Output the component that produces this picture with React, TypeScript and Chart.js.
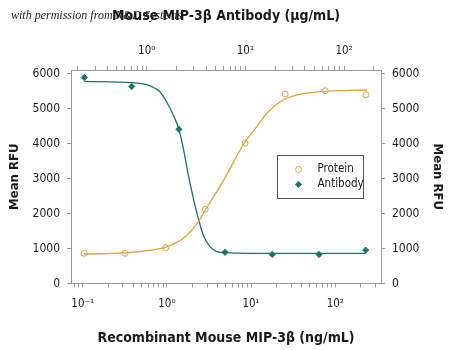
import React, { useEffect, useRef } from 'react';
import { Chart, registerables } from 'chart.js';

Chart.register(...registerables);

// ---- Data ----
// Protein: recombinant mouse MIP-3β concentration (ng/mL, bottom axis)
const proteinConc = [0.104, 0.318, 0.97, 2.85, 8.5, 25.4, 76, 231];
const proteinRFU = [863, 863, 1023, 2120, 4014, 5414, 5509, 5394];
// Protein fitted curve
const proteinFitConc = [0.104, 0.318, 0.631, 0.952, 1.57, 2.37, 2.85, 3.92, 5.65, 7.41, 8.5, 11.7, 15.4, 22.2, 35.1, 66.4, 238];
const proteinFitRFU = [843, 875, 950, 1030, 1290, 1766, 2100, 2623, 3291, 3814, 4050, 4480, 4863, 5194, 5386, 5480, 5528];

// Antibody: mouse MIP-3β antibody concentration (µg/mL, top axis)
const antibodyConc = [0.233, 0.705, 2.12, 6.21, 18.7, 55.7, 165.6];
const antibodyRFU = [5885, 5630, 4406, 891, 830, 830, 953];
// Antibody fitted curve
const antibodyFitConc = [0.233, 0.705, 1.0, 1.21, 1.36, 1.59, 1.86, 2.12, 2.35, 2.64, 2.97, 3.33, 3.74, 4.38, 5.12, 6.21, 11.1, 165.6];
const antibodyFitRFU = [5777, 5737, 5680, 5580, 5480, 5194, 4814, 4405, 3863, 3100, 2434, 1863, 1386, 1051, 909, 880, 863, 863];

// Axis ticks
const bottomTicks = [0.08, 0.09, 0.1, 0.2, 0.3, 0.4, 0.5, 0.6, 0.7, 0.8, 0.9, 1, 2, 3, 4, 5, 6, 7, 8, 9, 10, 20, 30, 40, 50, 60, 70, 80, 90, 100, 200, 300];
const topTicks = [0.2, 0.3, 0.4, 0.5, 0.6, 0.7, 0.8, 0.9, 1, 2, 3, 4, 5, 6, 7, 8, 9, 10, 20, 30, 40, 50, 60, 70, 80, 90, 100, 200];
const majorTickValues = [0.1, 1, 10, 100];
const majorTickLabels = ['10⁻¹', '10⁰', '10¹', '10²'];
const yTicks = [0, 1000, 2000, 3000, 4000, 5000, 6000];

const seriesLabels = ['Protein', 'Antibody'];

const xTitle = 'Recombinant Mouse MIP-3β (ng/mL)';
const x2Title = 'Mouse MIP-3β Antibody (µg/mL)';
const yTitle = 'Mean RFU';
const creditText = 'with permission from R&D Systems';

const ORANGE = '#E0A23A';
const TEAL = '#1E726F';
const AXIS = '#9a9a9a';
const TEXT = '#1a1a1a';
const FONT = "'Liberation Sans Narrow', 'DejaVu Sans Condensed', 'Liberation Sans', sans-serif";

function tickLabel(value: number): string {
  const i = majorTickValues.findIndex((m) => Math.abs(m - value) < 1e-9);
  return i >= 0 ? majorTickLabels[i] : '';
}

const creditPlugin = {
  id: 'credit',
  beforeDraw(chart: any) {
    const ctx = chart.ctx;
    ctx.save();
    ctx.font = "italic 12px 'Liberation Serif', 'DejaVu Serif', serif";
    ctx.fillStyle = '#222';
    ctx.textBaseline = 'middle';
    ctx.fillText(creditText, 11, 16);
    ctx.restore();
  },
};

const boxLegendPlugin = {
  id: 'boxLegend',
  afterDraw(chart: any) {
    const { ctx, chartArea } = chart;
    const w = chartArea.right - chartArea.left;
    const h = chartArea.bottom - chartArea.top;
    const bx = Math.round(chartArea.left + w * 0.665) + 0.5;
    const by = Math.round(chartArea.top + h * 0.398) + 0.5;
    const bw = Math.round(w * 0.277);
    const bh = Math.round(h * 0.202);
    ctx.save();
    ctx.strokeStyle = '#555';
    ctx.lineWidth = 1;
    ctx.strokeRect(bx, by, bw, bh);
    ctx.font = `11.5px ${FONT}`;
    ctx.fillStyle = TEXT;
    ctx.textBaseline = 'middle';
    const mx = bx + 21;
    const tx = bx + 40;
    const y1 = by + 14;
    const y2 = by + 29;
    // protein marker (open circle)
    ctx.beginPath();
    ctx.arc(mx, y1, 3, 0, Math.PI * 2);
    ctx.fillStyle = '#fff';
    ctx.fill();
    ctx.strokeStyle = ORANGE;
    ctx.lineWidth = 1;
    ctx.stroke();
    // antibody marker (diamond)
    ctx.beginPath();
    const r = 3.6;
    ctx.moveTo(mx, y2 - r);
    ctx.lineTo(mx + r, y2);
    ctx.lineTo(mx, y2 + r);
    ctx.lineTo(mx - r, y2);
    ctx.closePath();
    ctx.fillStyle = TEAL;
    ctx.fill();
    ctx.fillStyle = TEXT;
    ctx.fillText(seriesLabels[0], tx, y1);
    ctx.fillText(seriesLabels[1], tx, y2);
    ctx.restore();
  },
};

export default function App() {
  const canvasRef = useRef<HTMLCanvasElement | null>(null);

  useEffect(() => {
    if (!canvasRef.current) return;
    const xy = (xs: number[], ys: number[]) => xs.map((x, i) => ({ x, y: ys[i] }));

    const logAxisCommon = (ticksList: number[], pad: number) => ({
      type: 'logarithmic' as const,
      afterBuildTicks: (scale: any) => {
        scale.ticks = ticksList.map((v) => ({ value: v }));
      },
      grid: {
        drawOnChartArea: false,
        drawTicks: true,
        tickLength: 4,
        tickColor: AXIS,
      },
      border: { display: true, color: AXIS, width: 1 },
      ticks: {
        autoSkip: false,
        maxRotation: 0,
        minRotation: 0,
        padding: pad,
        color: TEXT,
        font: { family: FONT, size: 11.5 },
        callback: (value: any) => tickLabel(Number(value)),
      },
    });

    const linAxisCommon = (pad: number) => ({
      type: 'linear' as const,
      min: 0,
      max: 6100,
      afterBuildTicks: (scale: any) => {
        scale.ticks = yTicks.map((v) => ({ value: v }));
      },
      grid: { drawOnChartArea: false, drawTicks: true, tickLength: 4, tickColor: AXIS },
      border: { display: true, color: AXIS, width: 1 },
      ticks: {
        autoSkip: false,
        padding: pad,
        color: TEXT,
        font: { family: FONT, size: 12 },
        callback: (value: any) => String(value),
      },
    });

    const chart = new Chart(canvasRef.current, {
      type: 'scatter',
      data: {
        datasets: [
          {
            label: seriesLabels[0] + ' fit',
            data: xy(proteinFitConc, proteinFitRFU),
            xAxisID: 'x',
            yAxisID: 'y',
            showLine: true,
            borderColor: ORANGE,
            borderWidth: 1.3,
            pointRadius: 0,
            cubicInterpolationMode: 'monotone',
            fill: false,
          },
          {
            label: seriesLabels[1] + ' fit',
            data: xy(antibodyFitConc, antibodyFitRFU),
            xAxisID: 'x2',
            yAxisID: 'y',
            showLine: true,
            borderColor: TEAL,
            borderWidth: 1.3,
            pointRadius: 0,
            cubicInterpolationMode: 'monotone',
            fill: false,
          },
          {
            label: seriesLabels[0],
            data: xy(proteinConc, proteinRFU),
            xAxisID: 'x',
            yAxisID: 'y',
            showLine: false,
            pointStyle: 'circle',
            pointRadius: 3,
            borderWidth: 1,
            borderColor: ORANGE,
            backgroundColor: '#ffffff',
          },
          {
            label: seriesLabels[1],
            data: xy(antibodyConc, antibodyRFU),
            xAxisID: 'x2',
            yAxisID: 'y',
            showLine: false,
            pointStyle: 'rectRot',
            pointRadius: 3.2,
            borderWidth: 0.8,
            borderColor: TEAL,
            backgroundColor: TEAL,
          },
        ],
      },
      options: {
        responsive: false,
        animation: false,
        layout: { padding: 0 },
        plugins: {
          legend: { display: false },
          tooltip: { enabled: false },
          title: { display: false },
        },
        scales: {
          x: {
            ...logAxisCommon(bottomTicks, 10),
            position: 'bottom',
            min: 0.0726,
            max: 349,
            afterFit: (s: any) => {
              s.height = 66.5;
            },
            title: {
              display: true,
              text: xTitle,
              color: TEXT,
              font: { family: FONT, size: 14, weight: 'bold' },
              padding: { top: 0, bottom: 3 },
            },
          },
          x2: {
            ...logAxisCommon(topTicks, 8),
            position: 'top',
            min: 0.171,
            max: 236.6,
            afterFit: (s: any) => {
              s.height = 70;
            },
            title: {
              display: true,
              text: x2Title,
              color: TEXT,
              font: { family: FONT, size: 14, weight: 'bold' },
              padding: { top: 8, bottom: 0 },
            },
          },
          y: {
            ...linAxisCommon(7),
            position: 'left',
            afterFit: (s: any) => {
              s.width = 71;
            },
            title: {
              display: true,
              text: yTitle,
              color: TEXT,
              font: { family: FONT, size: 13, weight: 'bold' },
              padding: { top: 7, bottom: 0 },
            },
          },
          y2: {
            ...linAxisCommon(7),
            position: 'right',
            afterFit: (s: any) => {
              s.width = 69;
            },
            title: {
              display: true,
              text: yTitle,
              color: TEXT,
              font: { family: FONT, size: 13, weight: 'bold' },
              padding: { top: 5, bottom: 0 },
            },
          },
        },
      } as any,
      plugins: [creditPlugin, boxLegendPlugin],
    });

    return () => {
      chart.destroy();
    };
  }, []);

  return (
    <div style={{ position: 'absolute', left: 0, top: 0, width: 450, height: 350, background: '#fff' }}>
      <canvas ref={canvasRef} width={450} height={350} style={{ display: 'block' }} />
    </div>
  );
}
